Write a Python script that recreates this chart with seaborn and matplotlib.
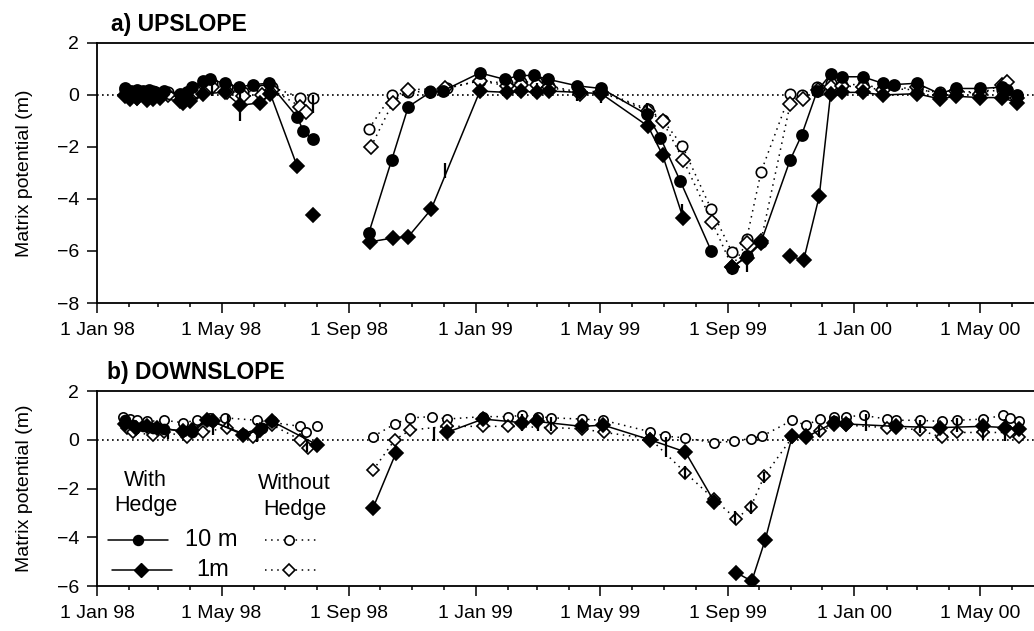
import numpy as np
import pandas as pd

import matplotlib
matplotlib.use("Agg")
import matplotlib.pyplot as plt
import matplotlib.dates as mdates
import seaborn as sns

# %% a) upslope, None = break in the record
a_10m_hedge_dates = ["1998-01-28", "1998-02-03", "1998-02-09", "1998-02-14", "1998-02-20", "1998-02-26",
                     "1998-03-07", "1998-03-22", "1998-03-29", "1998-04-03", "1998-04-13", "1998-04-20",
                     "1998-05-04", "1998-05-18", "1998-05-31", "1998-06-16", "1998-07-13", "1998-07-19",
                     "1998-07-28", None, "1998-09-20", "1998-10-12", "1998-10-28", "1998-11-18",
                     "1998-11-30", "1999-01-05", "1999-01-29", "1999-02-12", "1999-02-26", "1999-03-12",
                     "1999-04-09", "1999-05-02", "1999-06-15", "1999-06-28", "1999-07-17", "1999-08-16",
                     None, "1999-09-05", "1999-09-19", "1999-10-03", "1999-10-31", "1999-11-11",
                     "1999-11-26", "1999-12-09", "1999-12-20", "2000-01-09", "2000-01-28", "2000-02-08",
                     "2000-03-01", "2000-03-23", "2000-04-08", "2000-05-01", "2000-05-22", "2000-05-27",
                     "2000-06-06"]
a_10m_hedge = [0.25, 0.15, 0.2, 0.15, 0.2, 0.1, 0.15, 0.05, 0.1, 0.3, 0.55, 0.6, 0.45, 0.3, 0.4, 0.45,
               -0.85, -1.4, -1.7, None, -5.3, -2.5, -0.45, 0.1, 0.15, 0.85, 0.6, 0.75, 0.75, 0.6, 0.35,
               0.25, -0.75, -1.65, -3.3, -6.0, None, -6.65, -6.2, -5.65, -2.5, -1.55, 0.15, 0.8, 0.7,
               0.7, 0.45, 0.4, 0.45, 0.05, 0.25, 0.25, 0.3, 0.2, 0.0]

a_1m_hedge_dates = ["1998-01-28", "1998-02-02", "1998-02-09", "1998-02-18", "1998-02-24", "1998-03-03",
                    "1998-03-22", "1998-03-25", "1998-04-01", "1998-04-13", "1998-05-04", "1998-05-19",
                    "1998-06-07", "1998-06-17", "1998-07-13", None, "1998-07-28", None, "1998-09-21",
                    "1998-10-13", "1998-10-28", "1998-11-19", "1999-01-05", "1999-01-31", "1999-02-14",
                    "1999-03-01", "1999-03-13", "1999-04-11", "1999-05-02", "1999-06-16", "1999-06-30",
                    "1999-07-20", None, "1999-09-05", "1999-09-19", "1999-10-03", None, "1999-10-31",
                    "1999-11-13", "1999-11-28", "1999-12-09", "1999-12-20", "2000-01-09", "2000-01-28",
                    "2000-03-01", "2000-03-23", "2000-04-08", "2000-05-01", "2000-05-22", "2000-06-06"]
a_1m_hedge = [-0.05, -0.15, -0.1, -0.2, -0.15, -0.1, -0.25, -0.3, -0.25, 0.05, 0.1, -0.4, -0.3, 0.05,
              -2.75, None, -4.6, None, -5.65, -5.5, -5.45, -4.4, 0.15, 0.1, 0.15, 0.1, 0.15, 0.1, 0.05,
              -1.2, -2.3, -4.75, None, -6.6, -6.25, -5.7, None, -6.2, -6.35, -3.9, 0.05, 0.1, 0.1, 0.0,
              0.05, -0.15, -0.05, -0.1, -0.1, -0.3]

a_10m_open_dates = ["1998-01-28", "1998-02-09", "1998-02-24", "1998-03-10", "1998-03-25", "1998-04-07",
                    "1998-04-22", "1998-05-06", "1998-05-22", "1998-06-09", "1998-06-19", "1998-07-16",
                    "1998-07-28", None, "1998-09-20", "1998-10-12", "1998-10-28", "1998-11-18",
                    "1998-12-04", "1999-01-05", "1999-01-31", "1999-02-14", "1999-03-01", "1999-03-13",
                    "1999-04-11", "1999-05-02", "1999-06-16", "1999-06-30", "1999-07-19", "1999-08-16",
                    "1999-09-05", "1999-09-19", "1999-10-03", "1999-10-31", "1999-11-11", "1999-11-26",
                    "1999-12-09", "1999-12-20", "2000-01-09", "2000-01-28", "2000-03-01", "2000-03-23",
                    "2000-04-08", "2000-05-01", "2000-05-22", "2000-06-06"]
a_10m_open = [0.2, 0.1, 0.15, 0.1, 0.0, 0.2, 0.45, 0.3, 0.1, 0.2, 0.3, -0.1, -0.1, None, -1.3, 0.0, 0.1,
              0.15, 0.25, 0.55, 0.45, 0.5, 0.5, 0.35, 0.1, 0.15, -0.55, -0.95, -1.95, -4.4, -6.05, -5.55,
              -2.95, 0.05, 0.0, 0.3, 0.45, 0.4, 0.4, 0.25, 0.2, 0.1, 0.15, 0.1, 0.2, -0.05]

a_1m_open_dates = ["1998-01-28", "1998-02-09", "1998-02-24", "1998-03-10", "1998-03-25", "1998-04-07",
                   "1998-04-22", "1998-05-06", "1998-05-22", "1998-06-09", "1998-06-19", "1998-07-16",
                   "1998-07-21", None, "1998-09-22", "1998-10-13", "1998-10-28", "1998-12-02",
                   "1999-01-05", "1999-01-31", "1999-02-14", "1999-03-01", "1999-03-13", "1999-04-11",
                   "1999-05-02", "1999-06-16", "1999-06-30", "1999-07-20", "1999-08-17", "1999-09-05",
                   "1999-09-19", "1999-10-03", "1999-10-31", "1999-11-12", "1999-11-27", "1999-12-09",
                   "1999-12-20", "2000-01-09", "2000-01-28", "2000-03-01", "2000-03-23", "2000-04-08",
                   "2000-05-01", "2000-05-22", "2000-05-27", "2000-06-06"]
a_1m_open = [0.0, -0.1, -0.05, 0.0, -0.1, 0.1, 0.3, 0.1, -0.05, 0.0, 0.2, -0.45, -0.65, None, -2.0, -0.3,
             0.2, 0.25, 0.55, 0.35, 0.4, 0.4, 0.3, 0.05, 0.1, -0.6, -1.0, -2.5, -4.9, -6.6, -5.7, -5.6,
             -0.35, -0.15, 0.2, 0.3, 0.35, 0.3, 0.2, 0.3, 0.0, 0.15, 0.05, 0.4, 0.5, -0.1]

a_err_dates = ["1998-04-22", "1998-05-19", "1998-07-28", "1998-09-21", "1998-11-18", "1998-12-02",
               "1999-03-01", "1999-04-09", "1999-05-02", "1999-06-15", "1999-07-19", "1999-09-19",
               "2000-01-28"]
a_err_mid = [0.2, -0.45, -0.35, -5.6, 0.0, -2.9, 0.2, 0.05, 0.0, -0.55, -4.5, -6.45, 0.1]
a_err_half = [0.25, 0.55, 0.35, 0.3, 0.15, 0.3, 0.27, 0.3, 0.3, 0.25, 0.3, 0.35, 0.35]

# %% b) downslope
b_10m_hedge_dates = ["1998-01-28", "1998-02-05", "1998-02-14", "1998-02-24", "1998-03-07", "1998-03-25",
                     "1998-04-03", "1998-04-17", "1998-04-22", "1998-05-22", "1998-06-09", "1998-06-19",
                     None, "1999-01-08", None, "1999-12-12", "1999-12-24"]
b_10m_hedge = [0.8, 0.6, 0.55, 0.5, 0.45, 0.35, 0.3, 0.8, 0.75, 0.25, 0.5, 0.75, None, 0.9, None, 0.75, 0.7]

b_1m_hedge_dates = ["1998-01-28", "1998-02-08", "1998-02-18", "1998-02-28", "1998-03-25", "1998-04-03",
                    "1998-04-17", "1998-04-23", "1998-05-22", "1998-06-07", "1998-06-19", "1998-08-01",
                    None, "1998-09-24", "1998-10-16", None, "1998-12-04", "1999-01-08", "1999-02-15",
                    "1999-03-01", "1999-04-13", "1999-05-04", "1999-06-18", "1999-07-22", "1999-08-19",
                    None, "1999-09-09", "1999-09-24", "1999-10-07", "1999-11-02", "1999-11-15",
                    "1999-12-12", "1999-12-24", "2000-02-10", "2000-03-23", "2000-05-04", "2000-05-25",
                    "2000-06-08"]
b_1m_hedge = [0.65, 0.5, 0.55, 0.5, 0.35, 0.4, 0.8, 0.75, 0.2, 0.4, 0.75, -0.2, None, -2.8, -0.55, None,
              0.3, 0.85, 0.7, 0.75, 0.55, 0.6, 0.0, -0.5, -2.55, None, -5.45, -5.8, -4.1, 0.15, 0.1, 0.7,
              0.65, 0.55, 0.5, 0.55, 0.5, 0.45]

b_10m_open_dates = ["1998-01-26", "1998-02-02", "1998-02-09", "1998-02-18", "1998-03-07", "1998-03-25",
                    "1998-04-07", "1998-04-20", "1998-05-04", "1998-06-04", "1998-07-16", "1998-07-21",
                    "1998-08-01", None, "1998-09-24", "1998-10-15", "1998-10-30", "1998-11-20",
                    "1998-12-04", "1999-01-08", "1999-02-01", "1999-02-15", "1999-03-02", "1999-03-15",
                    "1999-04-13", "1999-05-04", "1999-06-18", "1999-07-02", "1999-07-22", "1999-08-19",
                    "1999-09-07", "1999-09-23", "1999-10-04", "1999-11-02", "1999-11-15", "1999-11-29",
                    "1999-12-12", "1999-12-24", "2000-01-10", "2000-02-01", "2000-02-10", "2000-03-04",
                    "2000-03-25", "2000-04-09", "2000-05-04", "2000-05-23", "2000-05-30", "2000-06-08"]
b_10m_open = [0.95, 0.85, 0.8, 0.75, 0.8, 0.7, 0.8, 0.9, 0.9, 0.8, 0.55, 0.33, 0.55, None, 0.13, 0.65,
              0.9, 0.95, 0.85, 0.95, 0.95, 1.0, 0.95, 0.9, 0.85, 0.8, 0.33, 0.15, 0.08, -0.13, -0.05,
              0.05, 0.15, 0.8, 0.6, 0.85, 0.95, 0.95, 1.0, 0.85, 0.8, 0.8, 0.75, 0.8, 0.85, 1.0, 0.9, 0.75]

b_1m_open_dates = ["1998-01-30", "1998-02-05", "1998-02-24", "1998-03-07", "1998-03-29", "1998-04-13",
                   "1998-05-06", "1998-05-31", "1998-06-19", "1998-07-16", "1998-07-23", None,
                   "1998-09-24", "1998-10-15", "1998-10-30", "1998-12-04", "1999-01-08", "1999-02-01",
                   "1999-03-15", "1999-04-13", "1999-05-05", "1999-06-18", "1999-07-22", "1999-08-19",
                   "1999-09-09", "1999-09-23", "1999-10-06", "1999-11-02", "1999-11-15", "1999-11-29",
                   "1999-12-12", "1999-12-24", "2000-02-01", "2000-02-10", "2000-03-04", "2000-03-25",
                   "2000-04-09", "2000-05-04", "2000-05-30", "2000-06-08"]
b_1m_open = [0.5, 0.3, 0.2, 0.33, 0.1, 0.3, 0.5, 0.1, 0.6, 0.0, -0.35, None, -1.25, 0.0, 0.4, 0.55, 0.55,
             0.55, 0.5, 0.45, 0.3, 0.05, -1.35, -2.45, -3.25, -2.75, -1.5, 0.1, 0.2, 0.35, 0.6, 0.6, 0.5,
             0.5, 0.4, 0.1, 0.3, 0.3, 0.3, 0.1]

b_err_dates = ["1998-03-10", "1998-04-23", "1998-05-07", "1998-06-04", "1998-07-22", "1998-11-22",
               "1999-02-15", "1999-03-02", "1999-03-15", "1999-07-03", "1999-07-22", "1999-09-08",
               "1999-09-23", "1999-10-06", "1999-11-28", "2000-01-12", "2000-03-04", "2000-04-09",
               "2000-05-04", "2000-05-25"]
b_err_mid = [0.3, 0.55, 0.75, 0.3, -0.25, 0.25, 0.7, 0.65, 0.65, -0.3, -1.35, -3.2, -2.8, -1.55, 0.35,
             0.7, 0.55, 0.6, 0.3, 0.4]
b_err_half = [0.25, 0.35, 0.25, 0.4, 0.27, 0.28, 0.35, 0.3, 0.3, 0.4, 0.27, 0.27, 0.23, 0.23, 0.25,
              0.35, 0.27, 0.3, 0.3, 0.45]


# %%
def to_frame(dates, vals):
    df = pd.DataFrame({"date": dates, "val": vals})
    df["seg"] = df["val"].isna().cumsum()
    df = df.dropna().copy()
    df["date"] = pd.to_datetime(df["date"])
    df["val"] = df["val"].astype(float)
    return df


def draw_series(ax, dates, vals, marker, ms, filled, ls):
    sns.lineplot(
        data=to_frame(dates, vals), x="date", y="val", units="seg", estimator=None, ax=ax,
        color="k", lw=1.1, ls=ls, marker=marker, ms=ms,
        mfc="k" if filled else "w", mec="k", mew=1.2, legend=False,
        zorder=4 if filled else 3,
    )


def draw_errors(ax, dates, mid, half):
    mid = np.array(mid)
    half = np.array(half)
    ax.vlines(pd.to_datetime(dates), mid - half, mid + half, color="k", lw=1.6, zorder=5)


sns.set_style("ticks", {"axes.edgecolor": "k", "xtick.color": "k", "ytick.color": "k",
                        "text.color": "k", "axes.labelcolor": "k"})
plt.rcParams["font.family"] = ["Liberation Sans", "DejaVu Sans"]

DOTS = (0, (1, 3))
fig = plt.figure(figsize=(10.34, 6.31), dpi=100)
ax_a = fig.add_axes([0.0938, 0.5198, 0.9062, 0.4121])
ax_b = fig.add_axes([0.0938, 0.0713, 0.9062, 0.3090])

panels = [
    (ax_a, a_10m_hedge_dates, a_10m_hedge, a_1m_hedge_dates, a_1m_hedge,
     a_10m_open_dates, a_10m_open, a_1m_open_dates, a_1m_open,
     a_err_dates, a_err_mid, a_err_half, (-8, 2), 8.0, 7.6),
    (ax_b, b_10m_hedge_dates, b_10m_hedge, b_1m_hedge_dates, b_1m_hedge,
     b_10m_open_dates, b_10m_open, b_1m_open_dates, b_1m_open,
     b_err_dates, b_err_mid, b_err_half, (-6, 2), 7.2, 6.8),
]

for (ax, d10h, v10h, d1h, v1h, d10o, v10o, d1o, v1o, ed, em, eh, ylim, ms_o, ms_d) in panels:
    ax.axhline(0, color="k", lw=1.2, ls=(0, (1, 2)), zorder=1)
    draw_series(ax, d10o, v10o, "o", ms_o - 0.5, False, DOTS)
    draw_series(ax, d1o, v1o, "D", ms_d - 0.4, False, DOTS)
    draw_series(ax, d10h, v10h, "o", ms_o, True, "-")
    draw_series(ax, d1h, v1h, "D", ms_d, True, "-")
    draw_errors(ax, ed, em, eh)

    ax.set_xlim(pd.Timestamp("1998-01-01"), pd.Timestamp("2000-06-22"))
    ax.set_ylim(*ylim)
    ax.set_yticks(np.arange(ylim[0], ylim[1] + 1, 2))
    ax.xaxis.set_major_locator(mdates.MonthLocator(bymonth=(1, 5, 9)))
    ax.xaxis.set_minor_locator(mdates.MonthLocator())
    ax.xaxis.set_major_formatter(mdates.DateFormatter("1 %b %y"))
    ax.tick_params(which="major", direction="out", length=7, width=1.1, labelsize=14)
    ax.tick_params(axis="x", which="major", pad=7)
    ax.tick_params(axis="y", which="major", pad=6)
    ax.tick_params(which="minor", direction="out", length=3, width=1.1)
    ax.spines["right"].set_visible(False)
    for s in ["left", "bottom", "top"]:
        ax.spines[s].set_linewidth(1.3)
    ax.set_xlabel("")
    ax.set_ylabel("Matrix potential (m)", fontsize=14)
    ax.yaxis.set_label_coords(-0.068, 0.5)

fig.text(111 / 1034, 1 - 25 / 631, "a) UPSLOPE", fontsize=16.5, fontweight="bold", va="center")
fig.text(107 / 1034, 1 - 373 / 631, "b) DOWNSLOPE", fontsize=16.5, fontweight="bold", va="center")

# hand-made key inside panel b
tr = ax_b.transAxes
ax_b.text(0.052, 0.477, "With\nHedge", transform=tr, ha="center", va="center", fontsize=15.5,
          linespacing=1.3)
ax_b.text(0.211, 0.46, "Without\nHedge", transform=tr, ha="center", va="center", fontsize=15.5,
          linespacing=1.3)
ax_b.plot([0.0117, 0.0438, 0.0758], [0.236] * 3, transform=tr, color="k", lw=1.1,
          marker="o", ms=7.2, mfc="k", mec="k", markevery=[1])
ax_b.plot([0.016, 0.047, 0.080], [0.082] * 3, transform=tr, color="k", lw=1.1,
          marker="D", ms=6.8, mfc="k", mec="k", markevery=[1])
ax_b.plot([0.179, 0.205, 0.234], [0.236] * 3, transform=tr, color="k", lw=1.1, ls=DOTS,
          marker="o", ms=6.7, mfc="w", mec="k", mew=1.2, markevery=[1])
ax_b.plot([0.179, 0.205, 0.234], [0.082] * 3, transform=tr, color="k", lw=1.1, ls=DOTS,
          marker="D", ms=6.4, mfc="w", mec="k", mew=1.2, markevery=[1])
ax_b.text(0.094, 0.236, "10 m", transform=tr, va="center", fontsize=17)
ax_b.text(0.106, 0.082, "1m", transform=tr, va="center", fontsize=17)

fig.savefig("out.png", dpi=100)
